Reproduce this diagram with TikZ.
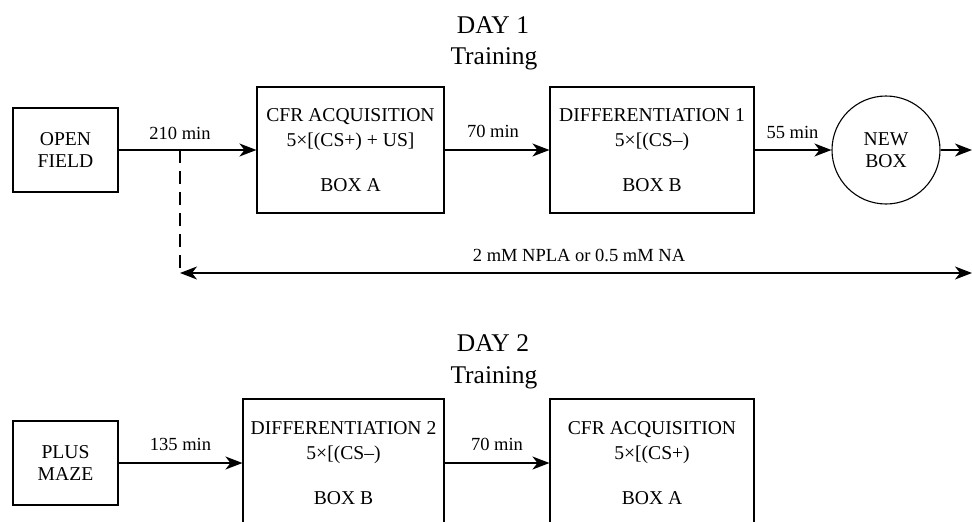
\documentclass[tikz,border=0pt]{standalone}
\usepackage{fontspec}
\setmainfont{Liberation Serif}
\usetikzlibrary{arrows.meta}
\begin{document}
\begin{tikzpicture}[x=1pt,y=-1pt,
  >={Stealth[length=17pt,width=13pt,inset=5pt]},
  box/.style={draw, line width=1.1pt, inner sep=0pt, align=center, font=\fontsize{19.6}{25}\selectfont},
  smallbox/.style={box, font=\fontsize{19.6}{22.5}\selectfont},
  lbl/.style={font=\fontsize{18.5}{22}\selectfont, anchor=base, inner sep=0pt},
  ttl/.style={font=\fontsize{25.5}{30}\selectfont, anchor=base, inner sep=0pt},
  conn/.style={line width=1.3pt, ->},
]
\useasboundingbox (0,0) rectangle (972,522);
\clip (0,0) rectangle (972,522);

% Day 1
\node[ttl] (d1) at (493,33) {DAY 1};
\node[ttl] (t1) at (494,64) {Training};

\node[smallbox, minimum width=105pt, minimum height=84pt] (open) at (65.5,150) {OPEN\\FIELD};
\node[box, minimum width=187pt, minimum height=126pt] (cfr1) at (350.5,150)
  {CFR ACQUISITION\\5×[(CS+) + US]\\[20pt]BOX A};
\node[box, minimum width=204pt, minimum height=126pt] (diff1) at (652,150)
  {DIFFERENTIATION 1\\5×[(CS–)\\[20pt]BOX B};
\node[smallbox, circle, minimum size=108pt] (newbox) at (886,150) {NEW\\BOX};
\coordinate (cend) at (972,150);

\draw[conn] (open) -- (cfr1);
\draw[conn] (cfr1) -- (diff1);
\draw[conn] (diff1) -- (newbox);
\draw[conn] (newbox) -- (cend);

\node[lbl] (l210) at (180,139) {210 min};
\node[lbl] (l70a) at (493,137) {70 min};
\node[lbl] (l55) at (792.5,138) {55 min};

\coordinate (dtop) at (180,150);
\coordinate (dbot) at (180,273);
\coordinate (rend) at (972,273);
\draw[line width=1.3pt, dash pattern=on 13pt off 8pt] (dtop) -- (dbot);
\draw[line width=1.3pt, <->] (dbot) -- (rend);
\node[lbl] (drug) at (579,261) {2 mM NPLA or 0.5 mM NA};

% Day 2
\node[ttl] (d2) at (493,351) {DAY 2};
\node[ttl] (t2) at (494,383) {Training};

\node[smallbox, minimum width=105pt, minimum height=84pt] (plus) at (65.5,463) {PLUS\\MAZE};
\node[box, minimum width=201pt, minimum height=128pt] (diff2) at (343.5,463)
  {DIFFERENTIATION 2\\5×[(CS–)\\[20pt]BOX B};
\node[box, minimum width=204pt, minimum height=128pt] (cfr2) at (652,463)
  {CFR ACQUISITION\\5×[(CS+)\\[20pt]BOX A};

\draw[conn] (plus) -- (diff2);
\draw[conn] (diff2) -- (cfr2);

\node[lbl] (l135) at (180.5,450) {135 min};
\node[lbl] (l70b) at (497,450) {70 min};
\end{tikzpicture}
\end{document}
